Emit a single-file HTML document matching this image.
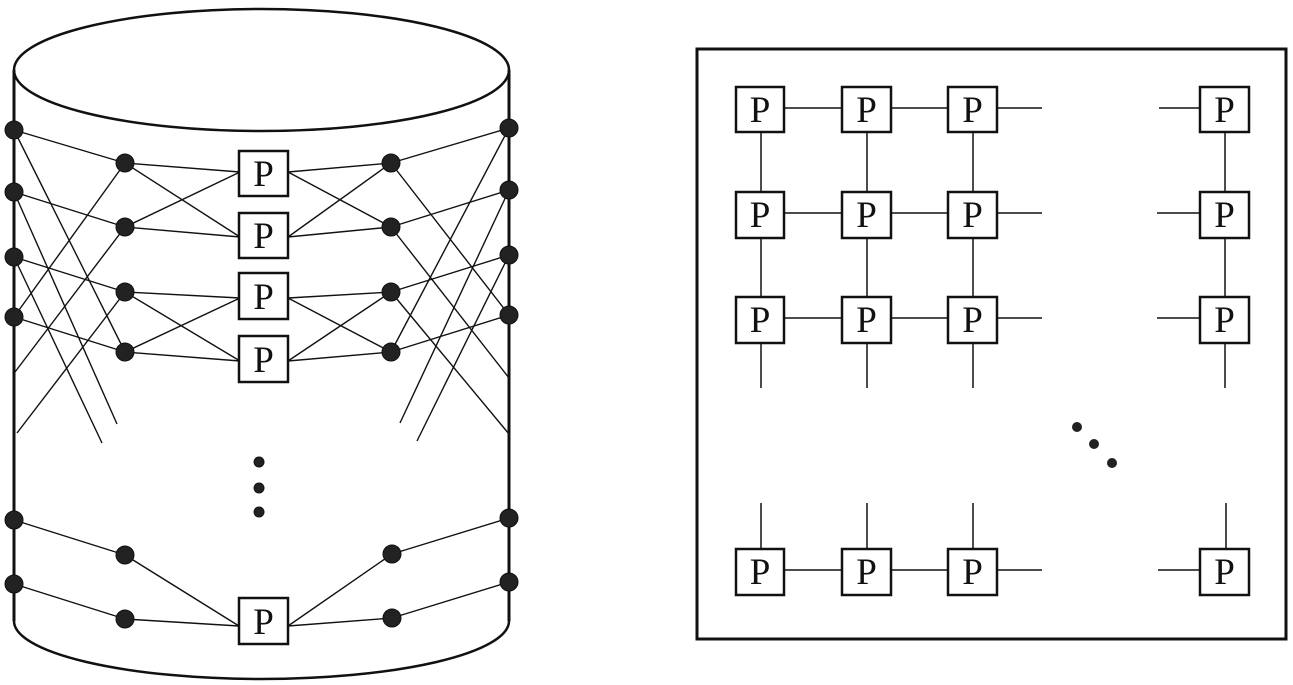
<!DOCTYPE html>
<html>
<head>
<meta charset="utf-8">
<style>
  html, body { margin:0; padding:0; background:#fff; }
  svg { display:block; }
  text { font-family: "Liberation Serif", "DejaVu Serif", serif; font-size:37px; fill:#111; }
</style>
</head>
<body>
<svg width="1293" height="685" viewBox="0 0 1293 685" xmlns="http://www.w3.org/2000/svg">
  <rect width="1293" height="685" fill="#fff"/>

  <!-- ========== CYLINDER ========== -->
  <g fill="none" stroke="#111">
    <ellipse cx="261.5" cy="70" rx="247.5" ry="61" stroke-width="2.5"/>
    <line x1="14" y1="70" x2="14" y2="621" stroke-width="3"/>
    <line x1="509" y1="70" x2="509" y2="621" stroke-width="3"/>
    <path d="M14 621 A247.5 58 0 0 0 509 621" stroke-width="2.5"/>
  </g>

  <!-- connector lines left -->
  <g stroke="#111" stroke-width="1.4" fill="none">
    <line x1="14" y1="130" x2="125" y2="163"/>
    <line x1="14" y1="130" x2="125" y2="352"/>
    <line x1="14" y1="192" x2="125" y2="227"/>
    <line x1="14" y1="192" x2="117" y2="424"/>
    <line x1="14" y1="257" x2="125" y2="292"/>
    <line x1="14" y1="257" x2="102" y2="443"/>
    <line x1="14" y1="317" x2="125" y2="352"/>
    <line x1="125" y1="163" x2="14" y2="317"/>
    <line x1="125" y1="227" x2="15" y2="372"/>
    <line x1="125" y1="292" x2="17" y2="433"/>
    <line x1="125" y1="163" x2="240" y2="172"/>
    <line x1="125" y1="163" x2="240" y2="237"/>
    <line x1="125" y1="227" x2="240" y2="172"/>
    <line x1="125" y1="227" x2="240" y2="237"/>
    <line x1="125" y1="292" x2="240" y2="298"/>
    <line x1="125" y1="292" x2="240" y2="361"/>
    <line x1="125" y1="352" x2="240" y2="298"/>
    <line x1="125" y1="352" x2="240" y2="361"/>

    <!-- right -->
    <line x1="509" y1="128" x2="391" y2="163"/>
    <line x1="509" y1="128" x2="391" y2="352"/>
    <line x1="509" y1="190" x2="391" y2="227"/>
    <line x1="509" y1="190" x2="400" y2="423"/>
    <line x1="509" y1="255" x2="391" y2="292"/>
    <line x1="509" y1="255" x2="417" y2="441"/>
    <line x1="509" y1="315" x2="391" y2="352"/>
    <line x1="391" y1="163" x2="509" y2="315"/>
    <line x1="391" y1="227" x2="509" y2="378"/>
    <line x1="391" y1="292" x2="509" y2="434"/>
    <line x1="391" y1="163" x2="288" y2="172"/>
    <line x1="391" y1="163" x2="288" y2="237"/>
    <line x1="391" y1="227" x2="288" y2="172"/>
    <line x1="391" y1="227" x2="288" y2="237"/>
    <line x1="391" y1="292" x2="288" y2="298"/>
    <line x1="391" y1="292" x2="288" y2="361"/>
    <line x1="391" y1="352" x2="288" y2="298"/>
    <line x1="391" y1="352" x2="288" y2="361"/>

    <!-- bottom -->
    <line x1="14" y1="520" x2="125" y2="555"/>
    <line x1="14" y1="584" x2="125" y2="619"/>
    <line x1="125" y1="555" x2="239" y2="626"/>
    <line x1="125" y1="619" x2="239" y2="626"/>
    <line x1="509" y1="518" x2="392" y2="554"/>
    <line x1="509" y1="582" x2="392" y2="618"/>
    <line x1="392" y1="554" x2="288" y2="626"/>
    <line x1="392" y1="618" x2="288" y2="626"/>
  </g>

  <!-- nodes -->
  <g fill="#222" stroke="#111" stroke-width="1">
    <circle cx="14" cy="130" r="9"/>
    <circle cx="14" cy="192" r="9"/>
    <circle cx="14" cy="257" r="9"/>
    <circle cx="14" cy="317" r="9"/>
    <circle cx="14" cy="520" r="9"/>
    <circle cx="14" cy="584" r="9"/>
    <circle cx="125" cy="163" r="9"/>
    <circle cx="125" cy="227" r="9"/>
    <circle cx="125" cy="292" r="9"/>
    <circle cx="125" cy="352" r="9"/>
    <circle cx="125" cy="555" r="9"/>
    <circle cx="125" cy="619" r="9"/>
    <circle cx="391" cy="163" r="9"/>
    <circle cx="391" cy="227" r="9"/>
    <circle cx="391" cy="292" r="9"/>
    <circle cx="391" cy="352" r="9"/>
    <circle cx="392" cy="554" r="9"/>
    <circle cx="392" cy="618" r="9"/>
    <circle cx="509" cy="128" r="9"/>
    <circle cx="509" cy="190" r="9"/>
    <circle cx="509" cy="255" r="9"/>
    <circle cx="509" cy="315" r="9"/>
    <circle cx="509" cy="518" r="9"/>
    <circle cx="509" cy="582" r="9"/>
    <!-- ellipsis dots -->
    <circle cx="259" cy="462" r="5"/>
    <circle cx="259" cy="488" r="5"/>
    <circle cx="259" cy="512" r="5"/>
  </g>

  <!-- cylinder P boxes -->
  <g fill="#fff" stroke="#111" stroke-width="2.5">
    <rect x="239" y="151" width="49" height="45"/>
    <rect x="239" y="213" width="49" height="45"/>
    <rect x="239" y="273" width="49" height="46"/>
    <rect x="239" y="336" width="49" height="46"/>
    <rect x="239" y="598" width="49" height="46"/>
  </g>
  <g text-anchor="middle">
    <text x="263.5" y="186">P</text>
    <text x="263.5" y="248">P</text>
    <text x="263.5" y="309">P</text>
    <text x="263.5" y="372">P</text>
    <text x="263.5" y="634">P</text>
  </g>

  <!-- ========== MESH PANEL ========== -->
  <rect x="697" y="49" width="589" height="590" fill="none" stroke="#111" stroke-width="3"/>

  <g stroke="#111" stroke-width="1.5" fill="none">
    <!-- horizontal rows -->
    <line x1="784" y1="108" x2="842" y2="108"/>
    <line x1="891" y1="108" x2="948" y2="108"/>
    <line x1="997" y1="108" x2="1042" y2="108"/>
    <line x1="1159" y1="108" x2="1200" y2="108"/>

    <line x1="784" y1="213" x2="842" y2="213"/>
    <line x1="891" y1="213" x2="948" y2="213"/>
    <line x1="997" y1="213" x2="1042" y2="213"/>
    <line x1="1157" y1="213" x2="1200" y2="213"/>

    <line x1="784" y1="318" x2="842" y2="318"/>
    <line x1="891" y1="318" x2="948" y2="318"/>
    <line x1="997" y1="318" x2="1042" y2="318"/>
    <line x1="1157" y1="318" x2="1200" y2="318"/>

    <line x1="784" y1="570" x2="842" y2="570"/>
    <line x1="891" y1="570" x2="948" y2="570"/>
    <line x1="997" y1="570" x2="1042" y2="570"/>
    <line x1="1158" y1="570" x2="1200" y2="570"/>

    <!-- vertical columns -->
    <line x1="761" y1="132" x2="761" y2="388"/>
    <line x1="867" y1="132" x2="867" y2="388"/>
    <line x1="973" y1="132" x2="973" y2="388"/>
    <line x1="1225" y1="132" x2="1225" y2="388"/>

    <line x1="761" y1="503" x2="761" y2="549"/>
    <line x1="867" y1="503" x2="867" y2="549"/>
    <line x1="973" y1="503" x2="973" y2="549"/>
    <line x1="1226" y1="503" x2="1226" y2="549"/>
  </g>

  <g fill="#fff" stroke="#111" stroke-width="2.5">
    <rect x="736" y="87" width="48" height="45"/>
    <rect x="842" y="87" width="49" height="45"/>
    <rect x="948" y="87" width="49" height="45"/>
    <rect x="1200" y="87" width="49" height="45"/>

    <rect x="736" y="192" width="48" height="46"/>
    <rect x="842" y="192" width="49" height="46"/>
    <rect x="948" y="192" width="49" height="46"/>
    <rect x="1200" y="192" width="49" height="46"/>

    <rect x="736" y="297" width="48" height="46"/>
    <rect x="842" y="297" width="49" height="46"/>
    <rect x="948" y="297" width="49" height="46"/>
    <rect x="1200" y="297" width="49" height="46"/>

    <rect x="736" y="549" width="48" height="46"/>
    <rect x="842" y="549" width="49" height="46"/>
    <rect x="948" y="549" width="49" height="46"/>
    <rect x="1200" y="549" width="49" height="46"/>
  </g>
  <g text-anchor="middle">
    <text x="760" y="122">P</text>
    <text x="866.5" y="122">P</text>
    <text x="972.5" y="122">P</text>
    <text x="1224.5" y="122">P</text>

    <text x="760" y="227">P</text>
    <text x="866.5" y="227">P</text>
    <text x="972.5" y="227">P</text>
    <text x="1224.5" y="227">P</text>

    <text x="760" y="332">P</text>
    <text x="866.5" y="332">P</text>
    <text x="972.5" y="332">P</text>
    <text x="1224.5" y="332">P</text>

    <text x="760" y="584">P</text>
    <text x="866.5" y="584">P</text>
    <text x="972.5" y="584">P</text>
    <text x="1224.5" y="584">P</text>
  </g>

  <g fill="#222">
    <circle cx="1077" cy="427" r="5"/>
    <circle cx="1094" cy="444" r="5"/>
    <circle cx="1112" cy="463" r="5"/>
  </g>
</svg>
</body>
</html>
